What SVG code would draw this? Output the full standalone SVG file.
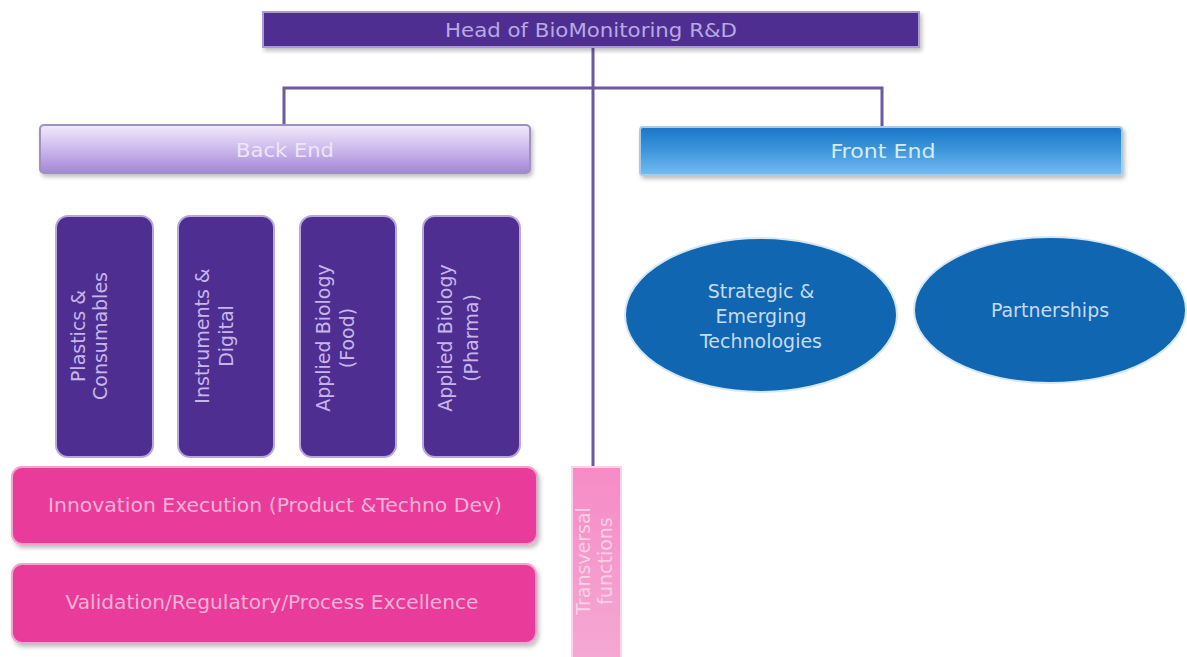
<svg xmlns="http://www.w3.org/2000/svg" width="1187" height="657" viewBox="0 0 1187 657">
<style>
  text { font-family: "DejaVu Sans", Verdana, sans-serif; font-size: 19px; text-anchor: middle; dominant-baseline: central; }
  .conn { stroke: #6b5b9e; stroke-width: 3; fill: none; }
  .purple { fill: #4f2e91; stroke: #b7a7dc; stroke-width: 2; }
  .ptext { fill: #c6b6ea; }
  .pink { fill: #e93a9a; stroke: #f3a3cf; stroke-width: 2; }
  .pinktext { fill: #f5b2d8; }
  .oval { fill: #1066b1; stroke: #d6e8f6; stroke-width: 2; }
  .otext { fill: #c5dbf0; }
</style>
<defs>
  <linearGradient id="gBack" x1="0" y1="0" x2="0" y2="1">
    <stop offset="0" stop-color="#f1ebfb"/>
    <stop offset="0.5" stop-color="#cdb9ec"/>
    <stop offset="1" stop-color="#a386d6"/>
  </linearGradient>
  <linearGradient id="gFront" x1="0" y1="0" x2="0" y2="1">
    <stop offset="0" stop-color="#1976c7"/>
    <stop offset="0.5" stop-color="#3f97dc"/>
    <stop offset="1" stop-color="#72bcf2"/>
  </linearGradient>
  <linearGradient id="gTrans" x1="0" y1="0" x2="0" y2="1">
    <stop offset="0" stop-color="#f78bc6"/>
    <stop offset="1" stop-color="#f4a9d3"/>
  </linearGradient>
  <filter id="sh" x="-5%" y="-10%" width="110%" height="130%">
    <feDropShadow dx="2" dy="3" stdDeviation="2" flood-color="#000" flood-opacity="0.25"/>
  </filter>
</defs>

<g id="connectors">
  <line class="conn" x1="593" y1="46" x2="593" y2="468"/>
  <polyline class="conn" points="284,126 284,88 882,88 882,128"/>
</g>

<g id="head">
  <rect x="263" y="12" width="656" height="35" fill="#4f2e91" stroke="#a99bd0" stroke-width="2" filter="url(#sh)"/>
  <text x="591" y="30" fill="#b9a9e2" textLength="292" lengthAdjust="spacingAndGlyphs">Head of BioMonitoring R&amp;D</text>
</g>

<g id="back-end">
  <rect x="40" y="125" width="490" height="48" rx="4" fill="url(#gBack)" stroke="#9e90bf" stroke-width="2" filter="url(#sh)"/>
  <text x="285" y="150" fill="#ece6f8" textLength="98" lengthAdjust="spacingAndGlyphs">Back End</text>
</g>

<g id="front-end">
  <rect x="640" y="127" width="482" height="48" rx="3" fill="url(#gFront)" stroke="#a9cbe8" stroke-width="2" filter="url(#sh)"/>
  <text x="883" y="151" fill="#d6ebfa" textLength="105" lengthAdjust="spacingAndGlyphs">Front End</text>
</g>

<g id="plastics">
  <rect class="purple" x="56" y="216" width="97" height="241" rx="12"/>
  <g transform="translate(89,336) rotate(-90)">
    <text class="ptext" x="0" y="-11">Plastics &amp;</text>
    <text class="ptext" x="0" y="11">Consumables</text>
  </g>
</g>

<g id="instruments">
  <rect class="purple" x="178" y="216" width="96" height="241" rx="12"/>
  <g transform="translate(214,336) rotate(-90)">
    <text class="ptext" x="0" y="-12">Instruments &amp;</text>
    <text class="ptext" x="0" y="12">Digital</text>
  </g>
</g>

<g id="bio-food">
  <rect class="purple" x="300" y="216" width="96" height="241" rx="12"/>
  <g transform="translate(335,338) rotate(-90)">
    <text class="ptext" x="0" y="-12">Applied Biology</text>
    <text class="ptext" x="0" y="12">(Food)</text>
  </g>
</g>

<g id="bio-pharma">
  <rect class="purple" x="423" y="216" width="97" height="241" rx="12"/>
  <g transform="translate(458,338) rotate(-90)">
    <text class="ptext" x="0" y="-13">Applied Biology</text>
    <text class="ptext" x="0" y="13">(Pharma)</text>
  </g>
</g>

<g id="innovation">
  <rect class="pink" x="12" y="467" width="525" height="77" rx="10" filter="url(#sh)"/>
  <text class="pinktext" x="275" y="505" textLength="454" lengthAdjust="spacingAndGlyphs">Innovation Execution (Product &amp;Techno Dev)</text>
</g>

<g id="validation">
  <rect class="pink" x="12" y="564" width="524" height="79" rx="10" filter="url(#sh)"/>
  <text class="pinktext" x="272" y="602" textLength="413" lengthAdjust="spacingAndGlyphs">Validation/Regulatory/Process Excellence</text>
</g>

<g id="transversal">
  <rect x="572" y="467" width="49" height="195" fill="url(#gTrans)" stroke="#fbd3ea" stroke-width="2"/>
  <g transform="translate(594,561) rotate(-90)">
    <text x="0" y="-11" fill="#fbd0e8" font-size="18">Transversal</text>
    <text x="0" y="11" fill="#fbd0e8" font-size="18">functions</text>
  </g>
</g>

<g id="strategic">
  <ellipse class="oval" cx="761" cy="315" rx="136" ry="77"/>
  <text class="otext" x="761" y="291">Strategic &amp;</text>
  <text class="otext" x="761" y="316">Emerging</text>
  <text class="otext" x="761" y="341">Technologies</text>
</g>

<g id="partnerships">
  <ellipse class="oval" cx="1050" cy="310" rx="136" ry="73"/>
  <text class="otext" x="1050" y="310">Partnerships</text>
</g>
</svg>
